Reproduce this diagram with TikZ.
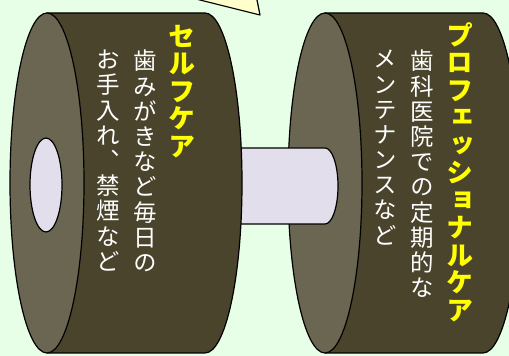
\documentclass[tikz,border=0pt]{standalone}
\usepackage{fontspec}
\newfontfamily\jpfont[RawFeature=+vert]{Noto Sans CJK JP}

\definecolor{bgcolor}{HTML}{E6FFE6}
\definecolor{platebody}{HTML}{4A442D}
\definecolor{plateface}{HTML}{6B6652}
\definecolor{barcolor}{HTML}{E2DEEC}
\definecolor{calloutcolor}{HTML}{FFFFCC}
\definecolor{titlecolor}{HTML}{FFFF00}

% one character per line, top to bottom
\ExplSyntaxOn
\NewDocumentCommand \tate { m }
  { \vbox { \tl_map_inline:nn {#1} { \hbox_to_wd:nn {1em} { \hss ##1 \hss } } } }
\ExplSyntaxOff

% plate: front centre x, back centre x
\newcommand\plate[2]{%
  \draw[body] (#1,343) -- (#2,343)
    arc[start angle=90,end angle=-90,x radius=37,y radius=170] -- (#1,3) -- cycle;
  \draw[face] (#1,173) ellipse[x radius=37,y radius=170];
}

\begin{document}
\begin{tikzpicture}
  [x=1pt,y=1pt,line join=round,
   % Styles
   outline/.style={draw=black,line width=1.2pt},
   body/.style={outline,fill=platebody},
   face/.style={outline,fill=plateface},
   bar/.style={outline,fill=barcolor},
   title text/.style={inner sep=0pt,anchor=north,text=titlecolor,
     font=\jpfont\bfseries\fontsize{27}{27.5}\selectfont},
   note text/.style={inner sep=0pt,anchor=north,text=white,
     font=\jpfont\fontsize{23.5}{25.2}\selectfont}]

  % Frame
  \fill[bgcolor] (0,0) rectangle (509,356);
  \useasboundingbox (0,0) rectangle (509,356);
  \clip (0,0) rectangle (509,356);

  % Callout pointer
  \filldraw[outline,fill=calloutcolor] (180,361) -- (260,341) -- (256,361);

  % Right plate
  \plate{325}{483}

  % Handle
  \draw[bar] (230,208) -- (325,208)
    arc[start angle=90,end angle=-90,x radius=13,y radius=38] -- (230,132);

  % Left plate with its hole
  \plate{47}{205}
  \draw[bar] (46,171) ellipse[x radius=16,y radius=47];

  % Texts
  \node[title text] (self title) at (182,331) {\tate{セルフケア}};
  \node[note text] (self line a) at (145,306) {\tate{歯みがきなど毎日の}};
  \node[note text] (self line b) at (108,306) {\tate{お手入れ、禁煙など}};

  \node[title text] (pro title) at (460,334) {\tate{プロフェッショナルケア}};
  \node[note text] (pro line a) at (422,306) {\tate{歯科医院での定期的な}};
  \node[note text] (pro line b) at (385,306) {\tate{メンテナンスなど}};
\end{tikzpicture}
\end{document}
